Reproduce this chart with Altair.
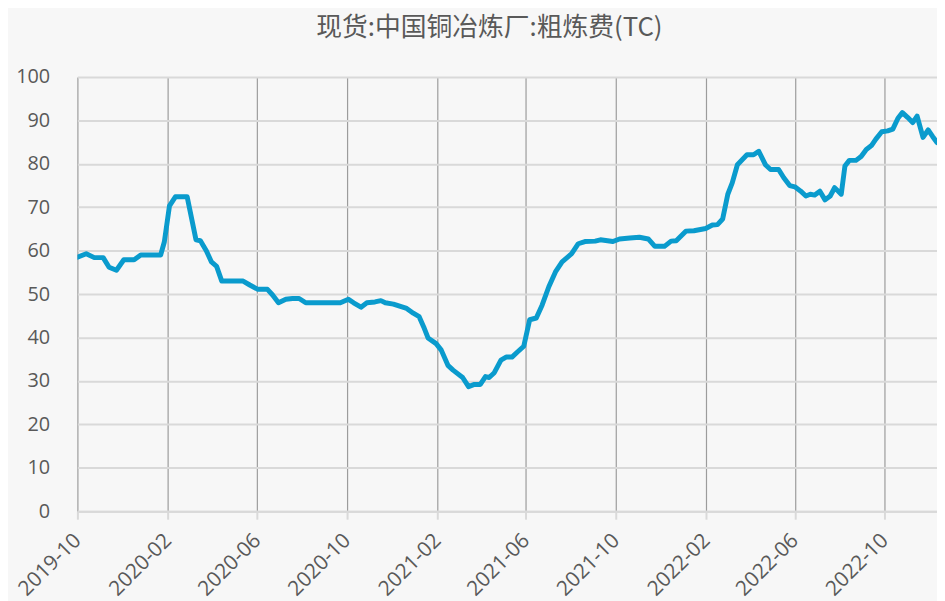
import altair as alt
import pandas as pd

TITLE = "现货:中国铜冶炼厂:粗炼费(TC)"

dates = [
    "2019-10-01", "2019-10-13", "2019-10-24", "2019-11-05", "2019-11-13", "2019-11-23",
    "2019-12-03", "2019-12-17", "2019-12-26", "2020-01-22", "2020-01-27", "2020-02-03",
    "2020-02-11", "2020-02-27", "2020-03-10", "2020-03-16", "2020-03-24", "2020-03-31",
    "2020-04-07", "2020-04-14", "2020-05-13", "2020-05-22", "2020-06-02", "2020-06-15",
    "2020-06-22", "2020-06-30", "2020-07-10", "2020-07-19", "2020-07-28", "2020-08-06",
    "2020-09-22", "2020-10-03", "2020-10-10", "2020-10-20", "2020-10-28", "2020-11-08",
    "2020-11-16", "2020-11-22", "2020-12-03", "2020-12-21", "2020-12-30", "2021-01-07",
    "2021-01-13", "2021-01-19", "2021-01-30", "2021-02-06", "2021-02-15", "2021-02-22",
    "2021-03-07", "2021-03-15", "2021-03-23", "2021-03-31", "2021-04-07", "2021-04-12",
    "2021-04-19", "2021-04-28", "2021-05-05", "2021-05-13", "2021-05-20", "2021-05-29",
    "2021-06-06", "2021-06-15", "2021-06-23", "2021-07-02", "2021-07-11", "2021-07-20",
    "2021-08-02", "2021-08-11", "2021-08-20", "2021-09-03", "2021-09-10", "2021-09-27",
    "2021-10-06", "2021-10-20", "2021-11-02", "2021-11-14", "2021-11-23", "2021-12-06",
    "2021-12-15", "2021-12-22", "2022-01-04", "2022-01-15", "2022-01-31", "2022-02-09",
    "2022-02-16", "2022-02-23", "2022-03-02", "2022-03-08", "2022-03-15", "2022-03-28",
    "2022-04-06", "2022-04-13", "2022-04-22", "2022-04-29", "2022-05-10", "2022-05-17",
    "2022-05-25", "2022-06-01", "2022-06-09", "2022-06-16", "2022-06-22", "2022-06-28",
    "2022-07-05", "2022-07-12", "2022-07-19", "2022-07-25", "2022-07-30", "2022-08-03",
    "2022-08-08", "2022-08-14", "2022-08-23", "2022-08-30", "2022-09-06", "2022-09-13",
    "2022-09-19", "2022-09-27", "2022-10-05", "2022-10-12", "2022-10-19", "2022-10-25",
    "2022-11-01", "2022-11-08", "2022-11-14", "2022-11-22", "2022-11-29", "2022-12-05",
    "2022-12-11",
]

tc_values = [
    58.5, 59.3, 58.4, 58.4, 56.2, 55.5,
    57.9, 57.9, 59.0, 59.0, 62.0, 70.3,
    72.4, 72.4, 62.5, 62.3, 60.0, 57.4,
    56.4, 53.0, 53.0, 52.1, 51.1, 51.1,
    49.8, 48.0, 48.8, 49.0, 49.0, 48.0,
    48.0, 48.8, 48.0, 47.0, 48.0, 48.2,
    48.5, 48.0, 47.7, 46.7, 45.6, 44.8,
    42.5, 39.9, 38.6, 37.1, 33.6, 32.5,
    30.8, 28.7, 29.2, 29.2, 31.0, 30.8,
    31.9, 34.8, 35.5, 35.5, 36.6, 38.0,
    44.1, 44.5, 47.5, 51.7, 55.1, 57.4,
    59.3, 61.6, 62.1, 62.2, 62.5, 62.1,
    62.7, 62.9, 63.1, 62.7, 61.0, 61.0,
    62.2, 62.3, 64.5, 64.6, 65.1, 65.9,
    66.0, 67.3, 73.0, 75.6, 79.8, 82.1,
    82.1, 82.9, 79.8, 78.7, 78.7, 76.8,
    75.0, 74.7, 73.7, 72.6, 73.0, 72.8,
    73.7, 71.7, 72.6, 74.5, 73.7, 73.0,
    79.5, 80.8, 80.8, 81.7, 83.3, 84.2,
    85.7, 87.4, 87.6, 88.0, 90.5, 91.8,
    90.7, 89.5, 91.0, 86.1, 87.8, 86.3,
    84.9,
]

x_tick_dates = [
    (2019, 10), (2020, 2), (2020, 6), (2020, 10), (2021, 2),
    (2021, 6), (2021, 10), (2022, 2), (2022, 6), (2022, 10),
]
y_ticks = [0, 10, 20, 30, 40, 50, 60, 70, 80, 90, 100]

df = pd.DataFrame({"date": dates, "tc": tc_values})

x_values = [alt.DateTime(year=y, month=m, date=1, utc=True) for y, m in x_tick_dates]
x_domain = [alt.DateTime(year=2019, month=10, date=1, utc=True),
            alt.DateTime(year=2022, month=12, date=11, utc=True)]

chart = alt.Chart(df).mark_line(
    color="#0A9BCD", strokeWidth=5, strokeJoin="round", strokeCap="round", clip=True
).encode(
    x=alt.X(
        "date:T",
        scale=alt.Scale(type="utc", domain=x_domain),
        axis=alt.Axis(
            values=x_values, labelExpr="utcFormat(datum.value, '%Y-%m')", title=None,
            labelAngle=-45, labelAlign="right", labelBaseline="middle",
            labelFont="Open Sans", labelFontSize=21, labelColor="#595959",
            labelPadding=18, tickSize=8, tickColor="#d9d9d9", tickWidth=2,
            domainColor="#d9d9d9", domainWidth=2,
            grid=True, gridColor="#9c9c9c", gridWidth=1.2,
            labelOverlap=False, labelFlush=False, labelBound=False,
        ),
    ),
    y=alt.Y(
        "tc:Q",
        scale=alt.Scale(domain=[0, 100], nice=False, zero=True),
        axis=alt.Axis(
            values=y_ticks, title=None, domain=False, ticks=False,
            labelFont="Open Sans", labelFontSize=20, labelColor="#595959",
            labelPadding=28, grid=True, gridColor="#d9d9d9", gridWidth=2,
        ),
    ),
).properties(
    width=867,
    height=438,
    autosize=alt.AutoSizeParams(type="none"),
    padding={"left": 70, "top": 67, "right": 0, "bottom": 93},
    background="#F7F7F7",
    title=alt.TitleParams(
        TITLE, font="Noto Sans CJK SC", fontSize=26, fontWeight="normal",
        color="#595959", anchor="middle", offset=26, dx=-18,
    ),
).configure_view(stroke=None)

chart.save("out.html", embed_options={"renderer": "svg", "actions": False})
